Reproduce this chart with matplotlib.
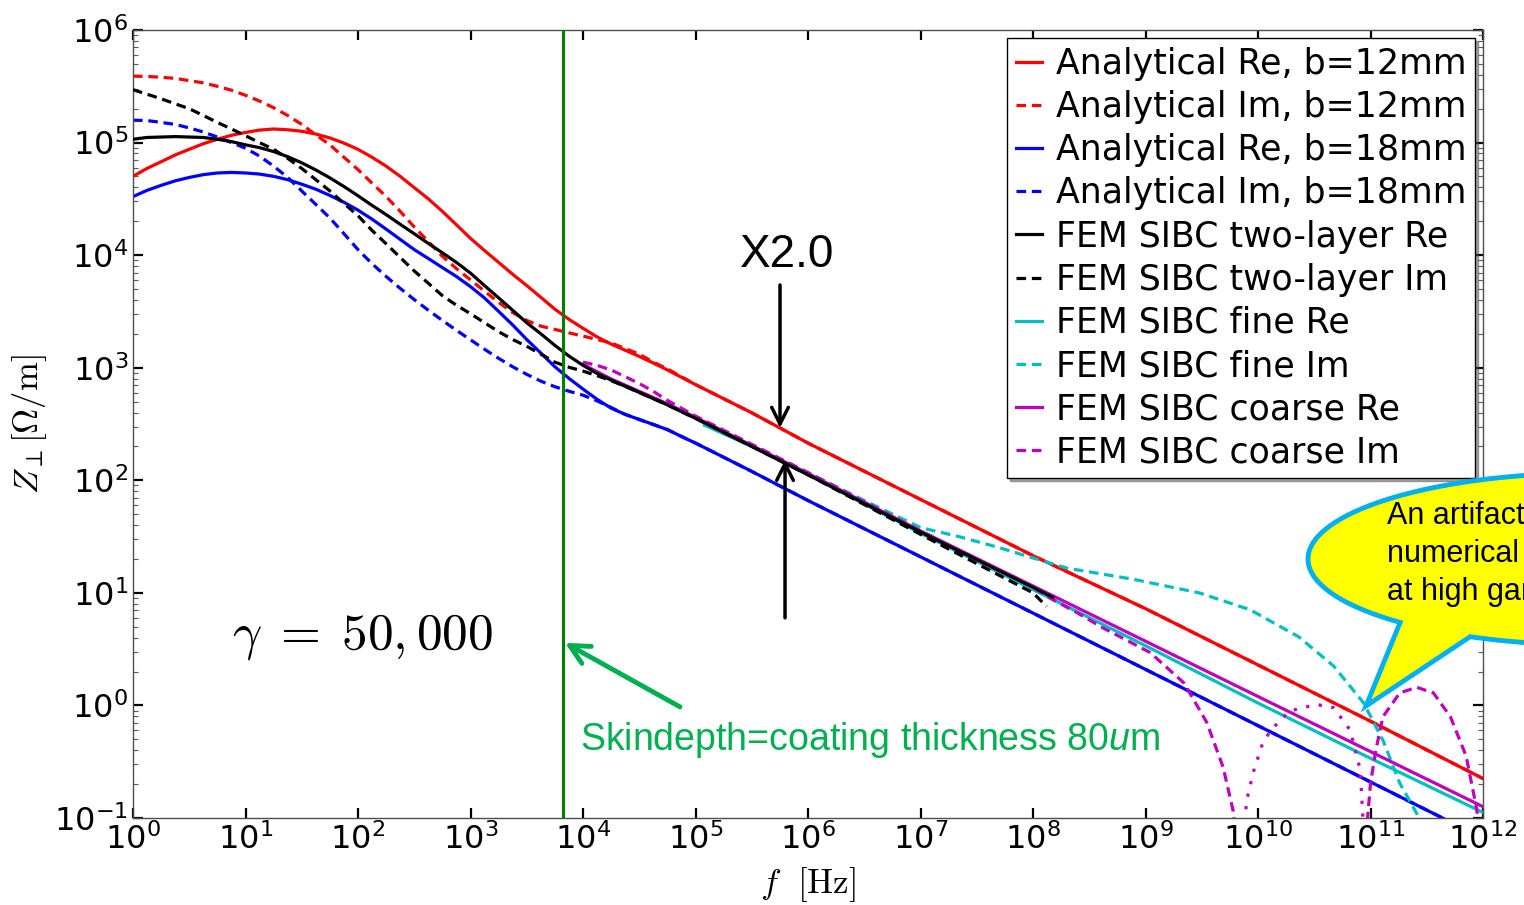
import numpy as np
import matplotlib
matplotlib.use('Agg')
import matplotlib.pyplot as plt
from matplotlib.path import Path
from matplotlib.patches import PathPatch
from matplotlib.transforms import IdentityTransform
from matplotlib.ticker import LogLocator, NullLocator

plt.rcParams['mathtext.rm'] = 'Liberation Sans'
plt.rcParams['mathtext.it'] = 'Liberation Sans:italic'

# frequency grid (Hz) where the curves were read, 1 Hz .. 100 kHz
f_lo = [1, 1.33, 1.78, 2.37, 3.16, 4.22, 5.62, 7.50,
        10, 13.3, 17.8, 23.7, 31.6, 42.2, 56.2, 75.0,
        100, 133, 178, 237, 316, 422, 562, 750,
        1e3, 1.33e3, 1.78e3, 2.37e3, 3.16e3, 4.22e3, 5.62e3, 7.50e3,
        1e4, 1.33e4, 1.78e4, 2.37e4, 3.16e4, 4.22e4, 5.62e4, 7.50e4, 1e5]
f_hi = [3.16e5, 1e6, 1e7, 1e8, 1e9, 1e10, 1e11, 1e12]
f_an = f_lo + f_hi

# analytical model, impedance in Ohm/m
an_re_12 = [5.01e4, 5.89e4, 6.76e4, 7.76e4, 8.71e4, 9.77e4, 1.07e5, 1.16e5,
            1.23e5, 1.29e5, 1.32e5, 1.30e5, 1.26e5, 1.19e5, 1.10e5, 9.89e4,
            8.71e4, 7.41e4, 6.17e4, 5.01e4, 3.98e4, 3.16e4, 2.45e4, 1.86e4,
            1.41e4, 1.10e4, 8.61e3, 6.76e3, 5.37e3, 4.22e3, 3.31e3, 2.69e3,
            2.24e3, 1.88e3, 1.62e3, 1.43e3, 1.26e3, 1.10e3, 955, 822, 708,
            398, 214, 67.6, 21.4, 7.24, 2.29, 0.724, 0.224]
an_im_12 = [3.89e5, 3.87e5, 3.80e5, 3.72e5, 3.55e5, 3.39e5, 3.16e5, 2.92e5,
            2.63e5, 2.34e5, 2.04e5, 1.74e5, 1.45e5, 1.17e5, 9.55e4, 7.41e4,
            5.75e4, 4.37e4, 3.31e4, 2.45e4, 1.78e4, 1.32e4, 9.77e3, 7.59e3,
            6.03e3, 4.79e3, 3.80e3, 3.09e3, 2.63e3, 2.34e3, 2.19e3, 2.04e3,
            1.91e3, 1.78e3, 1.66e3, 1.48e3, 1.32e3, 1.12e3, 977, 832, 708,
            398, 214, 67.6, 21.4, 7.24, 2.29, 0.724, 0.224]
an_re_18 = [3.31e4, 3.76e4, 4.17e4, 4.57e4, 4.90e4, 5.19e4, 5.37e4, 5.43e4,
            5.37e4, 5.25e4, 5.01e4, 4.68e4, 4.27e4, 3.85e4, 3.39e4, 2.95e4,
            2.51e4, 2.09e4, 1.70e4, 1.38e4, 1.12e4, 9.33e3, 7.76e3, 6.46e3,
            5.25e3, 4.17e3, 3.16e3, 2.40e3, 1.78e3, 1.35e3, 1.02e3, 804,
            646, 525, 437, 385, 347, 313, 282, 245, 214,
            120, 66.1, 20.9, 6.61, 2.09, 0.661, 0.209, 0.0661]
an_im_18 = [1.58e5, 1.57e5, 1.51e5, 1.45e5, 1.35e5, 1.24e5, 1.12e5, 1.00e5,
            8.91e4, 7.59e4, 6.17e4, 4.90e4, 3.72e4, 2.82e4, 2.14e4, 1.55e4,
            1.12e4, 8.41e3, 6.46e3, 5.07e3, 4.03e3, 3.24e3, 2.63e3, 2.15e3,
            1.77e3, 1.46e3, 1.21e3, 1.02e3, 873, 760, 678, 618,
            570, 508, 443, 385, 347, 313, 282, 245, 214,
            120, 66.1, 20.9, 6.61, 2.09, 0.661, 0.209, 0.0661]

# FEM SIBC two-layer
f_2l_re = f_lo + [3.16e5, 1e6, 1e7, 1e8, 1.5e8]
fem_re = [1.07e5, 1.11e5, 1.12e5, 1.13e5, 1.12e5, 1.11e5, 1.07e5, 1.02e5,
          9.55e4, 9.02e4, 8.32e4, 7.50e4, 6.61e4, 5.71e4, 4.86e4, 4.07e4,
          3.37e4, 2.77e4, 2.29e4, 1.88e4, 1.55e4, 1.27e4, 1.05e4, 8.61e3,
          6.92e3, 5.37e3, 4.17e3, 3.24e3, 2.51e3, 2.00e3, 1.58e3, 1.27e3,
          1.05e3, 891, 776, 684, 603, 531, 468, 407, 355,
          200, 112, 34.7, 11.2, 9.12]
f_2l_im = f_lo + [3.16e5, 1e6, 1e7, 1e8, 1.32e8]
fem_im = [2.95e5, 2.69e5, 2.45e5, 2.21e5, 2.00e5, 1.74e5, 1.51e5, 1.32e5,
          1.15e5, 1.00e5, 8.71e4, 7.24e4, 5.89e4, 4.68e4, 3.72e4, 2.88e4,
          2.24e4, 1.66e4, 1.26e4, 9.55e3, 7.24e3, 5.62e3, 4.37e3, 3.59e3,
          3.02e3, 2.51e3, 2.09e3, 1.78e3, 1.55e3, 1.32e3, 1.12e3, 1.01e3,
          933, 851, 767, 684, 603, 531, 468, 407, 355,
          200, 112, 33.1, 10.0, 7.59]

# FEM SIBC fine mesh
f_fine_re = [1.2e5, 3.16e5, 1e6, 1e7, 1e8, 1e9, 1e10, 1e11, 1e12]
fine_re = [309, 200, 112, 33.9, 10.7, 3.39, 1.05, 0.339, 0.112]
f_fine_im = [1.2e5, 3.16e5, 1e6, 3.16e6, 1e7, 2.2e7, 5.1e7, 1e8, 2e8, 7.8e8,
             3e9, 8.5e9, 2.3e10, 4.7e10, 8.7e10, 1.29e11, 1.82e11, 2.57e11,
             4e11]
fine_im = [316, 204, 117, 66.1, 38.0, 31.6, 25.1, 20.4, 16.6, 13.2, 10.0,
           7.08, 4.07, 2.24, 1.05, 0.490, 0.204, 0.110, 0.045]

# FEM SIBC coarse mesh
f_coarse_re = [1e4, 1.78e4, 3.16e4, 5.62e4, 1e5, 3.16e5, 1e6, 1e7, 1e8, 1e9,
               1e10, 1e11, 1e12]
coarse_re = [1.07e3, 794, 617, 479, 363, 204, 115, 35.5, 11.5, 3.72, 1.20,
             0.389, 0.126]
f_coarse_im = [1e4, 1.33e4, 1.78e4, 2.37e4, 3.16e4, 4.22e4, 5.62e4, 1e5,
               3.16e5, 1e6, 1e7, 1e8, 1.5e8, 2.5e8, 4e8, 1.1e9, 2.2e9, 3.5e9,
               4.9e9, 6.0e9, 7.0e9]
coarse_im = [1.12e3, 1.05e3, 955, 832, 724, 617, 513, 372, 209, 117, 35.5,
             11.2, 8.71, 6.61, 5.01, 2.95, 1.58, 0.708, 0.282, 0.117, 0.025]
f_coarse_im_mid = [7.0e9, 7.9e9, 9.1e9, 1.12e10, 1.48e10, 1.9e10, 3.3e10,
                   4.7e10, 6.6e10, 8.1e10, 8.9e10]
coarse_im_mid = [0.025, 0.141, 0.257, 0.490, 0.692, 0.891, 1.02, 0.955,
                 0.603, 0.269, 0.05]
f_coarse_im_hi = [8.9e10, 1.0e11, 1.12e11, 1.29e11, 1.82e11, 2.57e11,
                  3.63e11, 5.13e11, 7.08e11, 8.71e11, 1e12]
coarse_im_hi = [0.05, 0.204, 0.407, 0.794, 1.29, 1.45, 1.29, 0.794, 0.355,
                0.126, 0.05]

f_skin = 6.6e3

fig = plt.figure(figsize=(15.24, 9.05), dpi=100)
ax = fig.add_axes([133/1524, 87/905, 1350/1524, 788/905])

dash = (0, (3, 1.8))
lw = 2.3
ax.plot(f_an, an_re_12, color='r', lw=lw, label='Analytical Re, b=12mm')
ax.plot(f_an, an_im_12, color='r', lw=lw, ls=dash, label='Analytical Im, b=12mm')
ax.plot(f_an, an_re_18, color='b', lw=lw, label='Analytical Re, b=18mm')
ax.plot(f_an, an_im_18, color='b', lw=lw, ls=dash, label='Analytical Im, b=18mm')
ax.plot(f_2l_re, fem_re, color='k', lw=lw, zorder=4, label='FEM SIBC two-layer Re')
ax.plot(f_2l_im, fem_im, color='k', lw=lw, ls=dash, zorder=4, label='FEM SIBC two-layer Im')
ax.plot(f_fine_re, fine_re, color='c', lw=lw, label='FEM SIBC fine Re')
ax.plot(f_fine_im, fine_im, color='c', lw=lw, ls=dash, label='FEM SIBC fine Im')
ax.plot(f_coarse_re, coarse_re, color='m', lw=lw, zorder=3, label='FEM SIBC coarse Re')
ax.plot(f_coarse_im, coarse_im, color='m', lw=lw, ls=dash, zorder=3, label='FEM SIBC coarse Im')
ax.plot(f_coarse_im_mid, coarse_im_mid, color='m', lw=lw, ls=(0, (1, 3)), zorder=3)
ax.plot(f_coarse_im_hi, coarse_im_hi, color='m', lw=lw, ls=dash, zorder=3)

ax.axvline(f_skin, color='g', lw=2.2, zorder=5)

ax.set_xscale('log')
ax.set_yscale('log')
ax.set_xlim(1, 1e12)
ax.set_ylim(0.1, 1e6)
ax.xaxis.set_major_locator(LogLocator(base=10, numticks=20))
ax.xaxis.set_minor_locator(NullLocator())
ax.yaxis.set_major_locator(LogLocator(base=10, numticks=20))
ax.yaxis.set_minor_locator(LogLocator(base=10, subs=np.arange(2, 10), numticks=20))
ax.tick_params(which='both', direction='in', top=True, right=True)
ax.tick_params(which='major', length=7, width=1.6, labelsize=23)
ax.tick_params(which='minor', length=3.5, width=0.8, color='0.35')
for sp in ax.spines.values():
    sp.set_color('0.3')
    sp.set_linewidth(1)

ax.set_xlabel(r'$f\ \ [\mathrm{Hz}]$', fontsize=25, math_fontfamily='cm', labelpad=7)
ax.set_ylabel(r'$Z_{\perp}[\Omega/\mathrm{m}]$', fontsize=25, math_fontfamily='cm', labelpad=4)

leg = ax.legend(loc='upper right', bbox_to_anchor=(0.9941, 0.9898), borderaxespad=0,
                fontsize=25, handlelength=0.75, handletextpad=0.4, borderpad=0.25,
                labelspacing=0.265, fancybox=False, shadow=True, framealpha=1)
leg.get_frame().set_edgecolor('k')
leg.get_frame().set_linewidth(1)

# annotations
ax.text(110, 4.07, r'$\gamma\;=\;50,000$', fontsize=37, math_fontfamily='cm',
        ha='center', va='center')
ax.text(6.5e5, 1.0e4, 'X2.0', fontsize=33, family='Liberation Sans',
        ha='center', va='center')
ax.annotate('', xy=(5.64e5, 292), xytext=(5.64e5, 5.43e3),
            arrowprops=dict(arrowstyle='->', color='k', lw=2.5,
                            mutation_scale=30, shrinkA=0, shrinkB=0))
ax.annotate('', xy=(6.25e5, 152), xytext=(6.25e5, 6.0),
            arrowprops=dict(arrowstyle='->', color='k', lw=2.5,
                            mutation_scale=30, shrinkA=0, shrinkB=0))
ax.annotate('', xy=(6.9e3, 3.6), xytext=(7.28e4, 0.97),
            arrowprops=dict(arrowstyle='->', color='#00B050', lw=3.5,
                            mutation_scale=35, shrinkA=0, shrinkB=0), zorder=6)
ax.text(9.4e3, 0.495, r'Skindepth=coating thickness 80$\mathit{u}$m',
        fontsize=27, family='Liberation Sans', math_fontfamily='custom',
        color='#00B050', ha='left', va='center')

# speech bubble (pixel coordinates, image y downward)
cx, cy, a, b = 1592, 559, 284, 86
t = np.linspace(np.deg2rad(132.5), np.deg2rad(475.4), 200)
bx = cx + a * np.cos(t)
by = cy + b * np.sin(t)
verts = np.column_stack([np.r_[bx, 1366, bx[0]], 905 - np.r_[by, 706, by[0]]])
codes = [Path.MOVETO] + [Path.LINETO] * (len(verts) - 2) + [Path.CLOSEPOLY]
bubble = PathPatch(Path(verts, codes), facecolor='#FFFF00', edgecolor='#00B0F0',
                   lw=3.5, transform=IdentityTransform(), zorder=10)
fig.add_artist(bubble)
for txt, yb in [('An artifact of', 524), ('numerical noise', 562), ('at high gamma', 600)]:
    fig.text(1387/1524, 1 - yb/905, txt, fontsize=22, family='Liberation Sans',
             ha='left', va='baseline', zorder=11)

fig.savefig('out.png', dpi=100)
